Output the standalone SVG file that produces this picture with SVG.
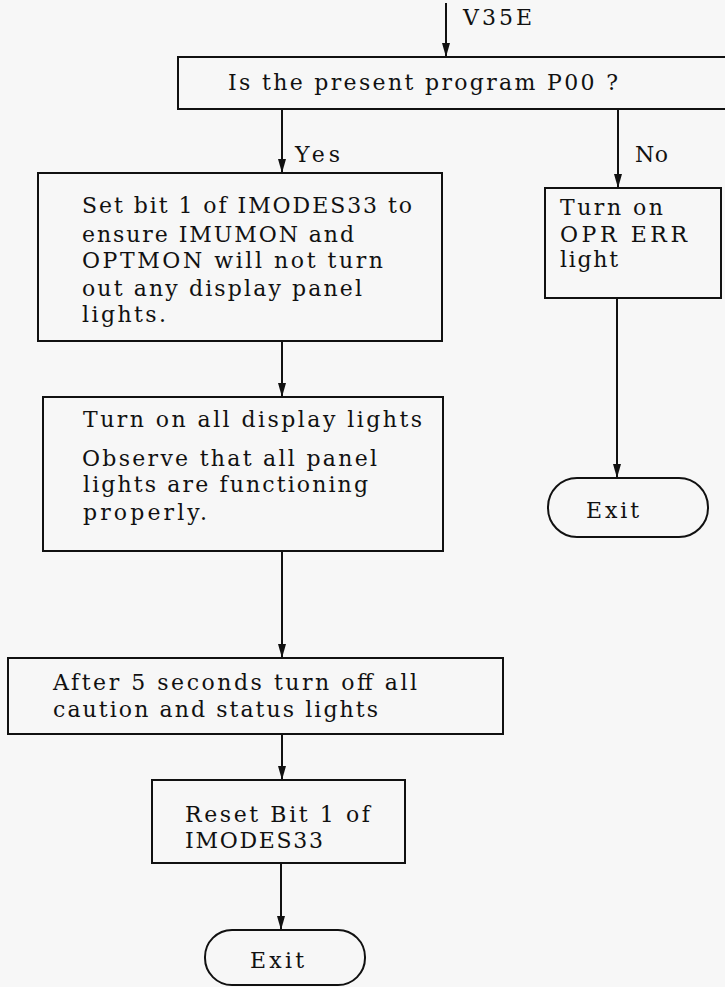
<svg xmlns="http://www.w3.org/2000/svg" width="725" height="987" viewBox="0 0 725 987">
<defs>
<marker id="ah" markerWidth="14" markerHeight="8" refX="14" refY="4" orient="auto" markerUnits="userSpaceOnUse" viewBox="0 0 14 8">
<path d="M0,0 L14,4 L0,8 Z" fill="#111"/>
</marker>
</defs>
<style>
.box{fill:none;stroke:#111;stroke-width:2}
.term{fill:none;stroke:#111;stroke-width:2}
.c{fill:none;stroke:#111;stroke-width:2}
.t{font-family:"DejaVu Serif","Liberation Serif",serif;font-size:22px;fill:#111}
</style>
<rect width="725" height="987" fill="#f7f7f7"/>
<g id="connectors">
<line class="c" x1="446" y1="3" x2="446" y2="57" marker-end="url(#ah)"/>
<line class="c" x1="282" y1="109" x2="282" y2="173" marker-end="url(#ah)"/>
<line class="c" x1="618" y1="109" x2="618" y2="188" marker-end="url(#ah)"/>
<line class="c" x1="617" y1="298" x2="617" y2="478" stroke-width="1.5" marker-end="url(#ah)"/>
<line class="c" x1="282" y1="341" x2="282" y2="397" marker-end="url(#ah)"/>
<line class="c" x1="282" y1="551" x2="282" y2="658" marker-end="url(#ah)"/>
<line class="c" x1="282" y1="734" x2="282" y2="780" marker-end="url(#ah)"/>
<line class="c" x1="281" y1="863" x2="281" y2="930" marker-end="url(#ah)"/>
<text class="t" x="463" y="25" textLength="69" lengthAdjust="spacing">V35E</text>
<text class="t" x="295" y="162" textLength="45" lengthAdjust="spacing">Yes</text>
<text class="t" x="635" y="162" textLength="33" lengthAdjust="spacing">No</text>
</g>
<g id="decision">
<path class="box" d="M727,57 L178,57 L178,109 L727,109"/>
<text class="t" x="228" y="90" textLength="390" lengthAdjust="spacing">Is the present program P00 ?</text>
</g>
<g id="setbit">
<rect class="box" x="38" y="173" width="404" height="168"/>
<text class="t" x="82" y="213" textLength="330" lengthAdjust="spacing">Set bit 1 of IMODES33 to</text>
<text class="t" x="82" y="242" textLength="272" lengthAdjust="spacing">ensure IMUMON and</text>
<text class="t" x="82" y="268" textLength="301" lengthAdjust="spacing">OPTMON will not turn</text>
<text class="t" x="82" y="296" textLength="280" lengthAdjust="spacing">out any display panel</text>
<text class="t" x="82" y="322" textLength="84" lengthAdjust="spacing">lights.</text>
</g>
<g id="turnon">
<rect class="box" x="43" y="397" width="400" height="154"/>
<text class="t" x="83" y="427" textLength="339" lengthAdjust="spacing">Turn on all display lights</text>
<text class="t" x="82" y="466" textLength="295" lengthAdjust="spacing">Observe that all panel</text>
<text class="t" x="83" y="492" textLength="285" lengthAdjust="spacing">lights are functioning</text>
<text class="t" x="83" y="520" textLength="124" lengthAdjust="spacing">properly.</text>
</g>
<g id="after5">
<rect class="box" x="8" y="658" width="495" height="76"/>
<text class="t" x="53" y="690" textLength="364" lengthAdjust="spacing">After 5 seconds turn off all</text>
<text class="t" x="53" y="717" textLength="325" lengthAdjust="spacing">caution and status lights</text>
</g>
<g id="reset">
<rect class="box" x="152" y="780" width="253" height="83"/>
<text class="t" x="185" y="822" textLength="185" lengthAdjust="spacing">Reset Bit 1 of</text>
<text class="t" x="185" y="848" textLength="138" lengthAdjust="spacing">IMODES33</text>
</g>
<g id="exit1">
<rect class="term" x="205" y="930" width="160" height="55" rx="27" ry="27"/>
<text class="t" x="250" y="968" textLength="54" lengthAdjust="spacing">Exit</text>
</g>
<g id="oprerr">
<rect class="box" x="545" y="188" width="176" height="110"/>
<text class="t" x="560" y="215" textLength="103" lengthAdjust="spacing">Turn on</text>
<text class="t" x="560" y="242" textLength="127" lengthAdjust="spacing">OPR ERR</text>
<text class="t" x="560" y="267" textLength="58" lengthAdjust="spacing">light</text>
</g>
<g id="exit2">
<rect class="term" x="548" y="478" width="160" height="59" rx="29" ry="29"/>
<text class="t" x="586" y="518" textLength="53" lengthAdjust="spacing">Exit</text>
</g>
</svg>
